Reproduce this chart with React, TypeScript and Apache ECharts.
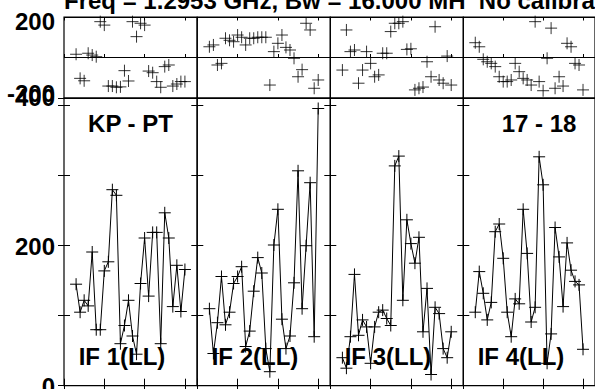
import React, { useEffect, useRef } from "react";
import * as echarts from "echarts";

// Time axis (hours, relative)
const times = [
  0.3, 0.4, 0.5, 0.6, 0.7, 0.8, 0.9, 1.0, 1.1, 1.2, 1.3, 1.4, 1.5, 1.6,
  1.7, 1.8, 1.9, 2.0, 2.1, 2.2, 2.3, 2.4, 2.5, 2.6, 2.7, 2.8, 2.9, 3.0,
];

const titleText = "Freq = 1.2953 GHz, Bw = 16.000 MH  No calibration applied";
const baselineLabel = "KP - PT";
const channelLabel = "17 - 18";
const ifLabels = ["IF 1(LL)", "IF 2(LL)", "IF 3(LL)", "IF 4(LL)"];

// Amplitudes per IF
const ampIF1 = [145, 105, 122, 114, 191, 80, 80, 164, 177, 280, 272, 60, 86, 122, 71, 45, 146, 211, 128, 219, 219, 60, 247, 211, 113, 172, 106, 166];
const ampIF2 = [110, 46, 90, 156, 87, 105, 146, 156, 170, 56, 78, 135, 183, 161, 53, 20, 201, 252, 95, 53, 71, 147, 307, 110, 200, 290, 70, 396];
const ampIF3 = [40, 25, 70, 159, 72, 94, 84, 32, 84, 105, 108, 96, 86, 314, 328, 122, 237, 203, 175, 212, 77, 139, 16, 112, 103, 53, 40, 77];
const ampIF4 = [105, 163, 132, 94, 119, 220, 231, 182, 105, 70, 124, 117, 252, 189, 91, 112, 327, 287, 32, 74, 226, 184, 113, 204, 165, 149, 144, 52];

// Phases per IF (degrees)
const phaseIF1 = [16, -103, -115, 21, 12, 4, 177, 160, -141, -141, -147, -145, -65, -116, 177, 103, 169, 160, -67, -75, -119, -147, -45, -37, -141, -131, -119, -119];
const phaseIF2 = [53, 62, -37, -29, 95, 85, 78, 111, 100, 62, 95, 95, 100, 100, 100, -136, 29, 70, 111, 50, 37, -4, -95, -60, 169, 136, -152, -111];
const phaseIF3 = [-62, 136, 29, 37, -127, -62, 29, -29, -95, -86, 21, 21, 128, 169, 169, 177, 40, 43, -160, -152, -146, -21, -95, 152, -111, -127, 7, -136];
const phaseIF4 = [73, 53, -9, -21, -29, -45, -95, -119, -119, -111, -29, -70, -103, -111, -136, 177, -119, -164, -4, 145, -152, -95, -141, 70, 53, -29, -37, -160];

const ampSeries = [ampIF1, ampIF2, ampIF3, ampIF4];
const phaseSeries = [phaseIF1, phaseIF2, phaseIF3, phaseIF4];

// Tick labels: [label text, axis value it is attached to]
const phaseTickLabels = [200, -200];
const ampTickLabels = [0, 200, 400];

const FONT = '"Liberation Sans", Arial, Helvetica, sans-serif';
const PLUS = "path://M0,6L12,6M6,0L6,12";

export default function App() {
  const ref = useRef<HTMLDivElement>(null);

  useEffect(() => {
    if (!ref.current) return;
    const chart = echarts.init(ref.current, undefined, { renderer: "svg" });

    const panelLefts = [64, 197.3, 330.3, 463.3];
    const panelW = 133;
    const phaseTop = 17;
    const phaseH = 81;
    const ampTop = 98;
    const ampH = 287.7;
    const ampMax = 411;
    const phaseLim = 200;

    const grids: any[] = [];
    const xAxes: any[] = [];
    const yAxes: any[] = [];
    const series: any[] = [];

    const gridBase = {
      show: true,
      borderColor: "#000",
      borderWidth: 1.2,
      backgroundColor: "transparent",
      containLabel: false,
    };

    const xAxisBase = (gridIndex: number, position: string, len: number) => ({
      type: "value",
      gridIndex,
      position,
      min: 0,
      max: 3.3,
      interval: 1,
      axisLine: { show: false },
      axisLabel: { show: false },
      splitLine: { show: false },
      axisTick: { show: true, inside: true, length: len, lineStyle: { color: "#000", width: 1 } },
    });

    const phaseY: number[] = [];
    const ampY: number[] = [];

    for (let i = 0; i < 4; i++) {
      // phase grid
      const pg = grids.length;
      grids.push({ ...gridBase, left: panelLefts[i], top: phaseTop, width: panelW, height: phaseH });
      const pxb = xAxes.length;
      xAxes.push(xAxisBase(pg, "bottom", 3.5));
      xAxes.push(xAxisBase(pg, "top", 3.5));
      const pyl = yAxes.length;
      phaseY.push(pyl);
      yAxes.push({
        type: "value",
        gridIndex: pg,
        position: "left",
        min: -phaseLim,
        max: phaseLim,
        interval: phaseLim,
        axisLine: { show: false },
        axisTick: { show: false },
        splitLine: { show: true, lineStyle: { color: "#000", width: 1 } },
        axisLabel: { show: false },
      });

      // amplitude grid
      const ag = grids.length;
      grids.push({ ...gridBase, left: panelLefts[i], top: ampTop, width: panelW, height: ampH });
      const axb = xAxes.length;
      xAxes.push(xAxisBase(ag, "bottom", 7));
      xAxes.push(xAxisBase(ag, "top", 7));
      const ayl = yAxes.length;
      ampY.push(ayl);
      yAxes.push({
        type: "value",
        gridIndex: ag,
        position: "left",
        min: 0,
        max: ampMax,
        interval: 100,
        axisLine: { show: false },
        splitLine: { show: false },
        axisTick: { show: true, inside: true, length: 6, lineStyle: { color: "#000", width: 1 } },
        axisLabel: { show: false },
      });
      yAxes.push({
        type: "value",
        gridIndex: ag,
        position: "right",
        min: 0,
        max: ampMax,
        interval: 100,
        axisLine: { show: false },
        splitLine: { show: false },
        axisLabel: { show: false },
        axisTick: { show: true, inside: true, length: 6, lineStyle: { color: "#000", width: 1 } },
      });

      series.push({
        type: "scatter",
        xAxisIndex: pxb,
        yAxisIndex: pyl,
        symbol: PLUS,
        symbolSize: 12,
        itemStyle: { color: "#000", borderColor: "#000", borderWidth: 1 },
        data: times.map((t, k) => [t, phaseSeries[i][k]]),
        silent: true,
        z: 3,
      });
      series.push({
        type: "line",
        xAxisIndex: axb,
        yAxisIndex: ayl,
        symbol: PLUS,
        symbolSize: 12,
        showSymbol: true,
        showAllSymbol: true,
        lineStyle: { color: "#000", width: 1 },
        itemStyle: { color: "#000", borderColor: "#000", borderWidth: 1 },
        data: times.map((t, k) => [t, ampSeries[i][k]]),
        silent: true,
        z: 3,
      });
    }

    chart.setOption({
      animation: false,
      backgroundColor: "#fff",
      grid: grids,
      xAxis: xAxes,
      yAxis: yAxes,
      series,
    });

    const labelFont = `bold 24px ${FONT}`;
    const txt = (text: string, x: number, y: number, align: string) => ({
      type: "text",
      x,
      y,
      z: 10,
      style: { text, font: labelFont, fill: "#000", verticalAlign: "middle", align },
    });

    const graphic: any[] = [
      txt(titleText, 64, 0, "left"),
      txt(baselineLabel, 130.5, 123.5, "center"),
      txt(channelLabel, 539, 123.5, "center"),
    ];
    const ifX = [122, 255, 388, 521];
    ifLabels.forEach((lab, i) => graphic.push(txt(lab, ifX[i], 356, "center")));

    // Tick labels on the left of panel 1, placed through the axes' scales
    const labelRight = 55;
    phaseTickLabels.forEach((v) => {
      // AIPS draws the phase labels slightly inside the frame
      const y = chart.convertToPixel({ yAxisIndex: phaseY[0] }, v * 0.9) as number;
      graphic.push(txt(String(v), labelRight, y, "right"));
    });
    ampTickLabels.forEach((v) => {
      const val = v === ampTickLabels[ampTickLabels.length - 1] ? ampMax : v;
      const y = (chart.convertToPixel({ yAxisIndex: ampY[0] }, val) as number) + (val === ampMax ? -1 : 1);
      graphic.push(txt(String(v), labelRight, y, "right"));
    });

    chart.setOption({ graphic });

    return () => chart.dispose();
  }, []);

  return <div ref={ref} style={{ width: 595, height: 389, position: "absolute", left: 0, top: 0 }} />;
}
